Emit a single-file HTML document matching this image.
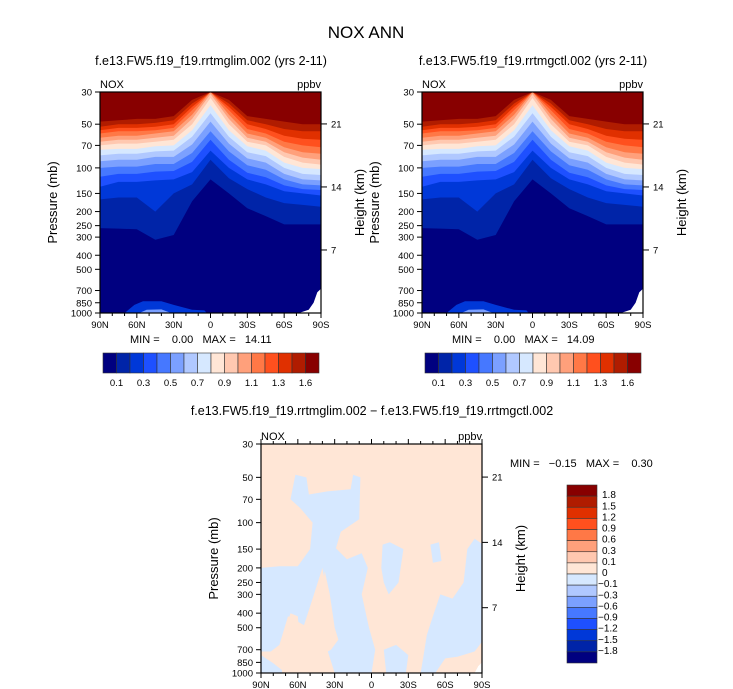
<!DOCTYPE html>
<html><head><meta charset="utf-8"><style>
html,body{margin:0;padding:0;background:#fff;}
svg{display:block;font-family:"Liberation Sans",sans-serif;}
text{white-space:pre;}
</style></head><body>
<svg id="s" width="733" height="689" viewBox="0 0 733 689" xmlns="http://www.w3.org/2000/svg" xml:space="preserve">
<text x="366" y="38" font-size="17" text-anchor="middle" fill="#000">NOX ANN</text>
<text x="211" y="65" font-size="12.5" text-anchor="middle">f.e13.FW5.f19_f19.rrtmglim.002 (yrs 2-11)</text>
<text x="533" y="65" font-size="12.5" text-anchor="middle">f.e13.FW5.f19_f19.rrtmgctl.002 (yrs 2-11)</text>
<text x="372" y="415" font-size="12.5" text-anchor="middle">f.e13.FW5.f19_f19.rrtmglim.002 − f.e13.FW5.f19_f19.rrtmgctl.002</text>
<text x="130" y="343" font-size="11">MIN =    0.00   MAX =   14.11</text>
<text x="452" y="343" font-size="11">MIN =    0.00   MAX =   14.09</text>
<text x="510" y="467" font-size="11">MIN =   −0.15   MAX =    0.30</text>
</svg>
<script>
// ---------- data ----------
const lats = [90,75,60,45,30,15,0,-15,-30,-45,-60,-75,-90];
const levelLabels = ["0.1","0.3","0.5","0.7","0.9","1.1","1.3","1.6"];
const bnd = [
 [48,47,46,46,44,34,30,34,44,46,48,50,50],
 [52,50,50,49,47,36,30,36,47,50,54,56,56],
 [55,53,53,52,50,38,30,38,50,54,60,63,64],
 [58,56,56,55,53,40,30,40,54,58,66,70,72],
 [62,60,60,58,56,43,30,43,58,62,72,78,80],
 [66,64,64,62,60,46,31,46,62,66,78,85,88],
 [70,68,68,66,64,50,33,50,66,70,84,92,95],
 [75,74,74,71,70,55,37,55,71,76,92,100,102],
 [82,80,80,77,76,61,42,61,78,83,100,110,112],
 [90,88,88,84,84,69,48,68,86,92,110,120,122],
 [100,98,98,94,94,79,56,77,96,103,120,130,132],
 [115,110,110,106,105,91,64,88,108,116,132,140,142],
 [135,125,125,122,120,107,76,100,120,130,145,150,155],
 [165,160,160,200,150,130,88,118,140,160,175,180,185],
 [260,262,265,313,290,170,120,150,190,215,245,245,245]
];
const fillColors = ["#880000","#b01c00","#e03000","#ff501e","#ff7846","#ffa07b","#ffc8b0","#ffe6d6","#d6e8ff","#b0c8ff","#7ba0ff","#4678ff","#1e50ff","#0038d8","#0024a8","#000080"];
const pLabels = [30,50,70,100,150,200,250,300,400,500,700,850,1000];
const hLabels = [21,14,7];
const xLabels = ["90N","60N","30N","0","30S","60S","90S"];
const xTickLats = [90,60,30,0,-30,-60,-90];
const blob = [[70,1000],[62,880],[55,830],[40,830],[30,880],[15,950],[5,960],[3,1000]];
const blobCore = [[58,1000],[52,950],[40,945],[32,1000]];
const missing = [[-72,1000],[-80,950],[-84,850],[-87,720],[-90,680],[-90,1000]];
// difference field: blue (negative) regions, then peach (positive) islands
const diffNeg = [
 [[66,70],[62,48],[53,50],[51,65],[36,62],[17,60],[15,48],[9,50],[10,95],[25,115],[29,148],[20,175],[8,160],[3,200],[8,300],[2,500],[-3,700],[0,1000],[30,1000],[36,700],[40,500],[36,300],[40,200],[48,320],[55,480],[68,420],[75,650],[82,720],[90,720],[90,200],[75,195],[60,195],[50,150],[48,100],[58,80]],
 [[90,760],[80,860],[70,1000],[90,1000]],
 [[-9,140],[-15,135],[-26,150],[-22,250],[-14,300],[-10,250],[-8,200]],
 [[-40,1000],[-42,800],[-45,560],[-50,420],[-56,300],[-66,320],[-75,250],[-78,150],[-84,128],[-90,138],[-90,620],[-84,720],[-70,780],[-60,800],[-52,1000]],
 [[-48,140],[-55,135],[-57,180],[-50,185]],
 [[-10,700],[-20,650],[-30,760],[-28,1000],[-12,1000]]
];
const diffPos = [
 [[73,1000],[72,560],[66,400],[60,420],[58,620],[57,1000]],
 [[46,700],[44,450],[38,210],[34,300],[30,500],[27,600],[33,700],[40,750]]
];
const diffMissing = [[-84,1000],[-87,900],[-90,850],[-90,1000]];
// ---------- drawing ----------
const S = document.getElementById('s');
const NS = "http://www.w3.org/2000/svg";
function mk(tag, attrs, parent){const e=document.createElementNS(NS,tag);for(const k in attrs)e.setAttribute(k,attrs[k]);(parent||S).appendChild(e);return e;}
function scales(x0,y0,w,h){
  return {x:l=>x0+(90-l)/180*w, y:p=>y0+Math.log(p/30)/Math.log(1000/30)*h};
}
function axes(x0,y0,w,h,name,minor){
  const sc=scales(x0,y0,w,h);
  const fr=mk('rect',{x:x0,y:y0,width:w,height:h,fill:'none',stroke:'#000','stroke-width':1.2});
  
  
  pLabels.forEach(p=>{
    const y=sc.y(p);
    mk('line',{x1:x0-5,x2:x0,y1:y,y2:y,stroke:'#000'});
    const t=mk('text',{x:x0-8,y:y+3.5,'font-size':9.5,'text-anchor':'end'});t.textContent=p;
    
    
  });
  hLabels.forEach(hk=>{
    const y=sc.y(1000*Math.exp(-hk/7));
    mk('line',{x1:x0+w,x2:x0+w+6,y1:y,y2:y,stroke:'#000'});
    const t=mk('text',{x:x0+w+10,y:y+3.5,'font-size':9.5});t.textContent=hk;
    
    
  });
  xTickLats.forEach((l,i)=>{
    const x=sc.x(l);
    mk('line',{x1:x,x2:x,y1:y0+h,y2:y0+h+5,stroke:'#000'});
    if(minor) mk('line',{x1:x,x2:x,y1:y0,y2:y0-5,stroke:'#000'});
    const t=mk('text',{x:x,y:y0+h+15,'font-size':9.5,'text-anchor':'middle'});t.textContent=xLabels[i];
    
    
  });
  for(let l=80;l>-90;l-=10){ if(l%30===0) continue; const x=sc.x(l);
    mk('line',{x1:x,x2:x,y1:y0+h,y2:y0+h+3,stroke:'#000'});
    if(minor) mk('line',{x1:x,x2:x,y1:y0,y2:y0-3,stroke:'#000'});
  }
  const n=mk('text',{x:x0,y:y0-4,'font-size':11});n.textContent='NOX';
  
  
  const u=mk('text',{x:x0+w,y:y0-4,'font-size':11,'text-anchor':'end'});u.textContent='ppbv';
  
  
  const yt=mk('text',{x:0,y:0,'font-size':13,'text-anchor':'middle',transform:`translate(${x0-43},${y0+h/2}) rotate(-90)`});yt.textContent='Pressure (mb)';
  
  
  const ht=mk('text',{x:0,y:0,'font-size':13,'text-anchor':'middle',transform:`translate(${x0+w+43},${y0+h/2}) rotate(-90)`});ht.textContent='Height (km)';
  
  
}
function poly(pts,sc,fill,name){
  const e=mk('polygon',{points:pts.map(q=>sc.x(q[0]).toFixed(1)+','+sc.y(q[1]).toFixed(1)).join(' '),fill:fill});
  
  
  return e;
}
function contourPanel(x0,y0,w,h,name){
  const sc=scales(x0,y0,w,h);
  const g=mk('g',{});
  const bg=mk('rect',{x:x0,y:y0,width:w,height:h,fill:fillColors[15]},g);
  
  
  for(let k=bnd.length-1;k>=0;k--){
    const pts=[[90,30]].concat(lats.map((l,i)=>[l,bnd[k][i]]),[[-90,30]]);
    const e=poly(pts,sc,fillColors[k],name+'-contour-band');
    g.appendChild(e);
  }
  g.appendChild(poly(blob,sc,'#0038d8',name+'-surface-blob'));
  g.appendChild(poly(blobCore,sc,'#7ba0ff',name+'-surface-blob-core'));
  g.appendChild(poly(missing,sc,'#fff',name+'-missing-data'));
  axes(x0,y0,w,h,name,false);
}
function hbar(x0,y0,w,h,name){
  const bw=w/fillColors.length;
  fillColors.slice().reverse().forEach((c,i)=>{
    const r=mk('rect',{x:x0+i*bw,y:y0,width:bw,height:h,fill:c,stroke:'#333','stroke-width':0.6});
    
    
  });
  levelLabels.forEach((lab,i)=>{
    const t=mk('text',{x:x0+(2*i+1)*bw,y:y0+h+13,'font-size':9.5,'text-anchor':'middle'});t.textContent=lab;
    
    
  });
}
contourPanel(100,92,221,221,'lim-panel');
hbar(103,353,216,20,'lim-colorbar');
contourPanel(422,92,221,221,'ctl-panel');
hbar(425,353,216,20,'ctl-colorbar');
(function(){
  const x0=261,y0=444,w=221,h=229,sc=scales(x0,y0,w,h);
  const bg=mk('rect',{x:x0,y:y0,width:w,height:h,fill:'#ffe6d6'});
  
  
  diffNeg.forEach(r=>poly(r,sc,'#d6e8ff','diff-negative-region'));
  diffPos.forEach(r=>poly(r,sc,'#ffe6d6','diff-positive-region'));
  poly(diffMissing,sc,'#fff','diff-missing-data');
  axes(x0,y0,w,h,'diff-panel',true);
  const diffLabels=["1.8","1.5","1.2","0.9","0.6","0.3","0.1","0","−0.1","−0.3","−0.6","−0.9","−1.2","−1.5","−1.8"];
  const bx=567,by=485,bh=178/16;
  fillColors.forEach((c,i)=>{
    const r=mk('rect',{x:bx,y:by+i*bh,width:30,height:bh,fill:c,stroke:'#333','stroke-width':0.6});
    
    
  });
  diffLabels.forEach((lab,i)=>{
    const t=mk('text',{x:lab.startsWith('−')?598:602,y:by+(i+1)*bh+2,'font-size':10});t.textContent=lab;
    
    
  });
})();
</script>
</body></html>
